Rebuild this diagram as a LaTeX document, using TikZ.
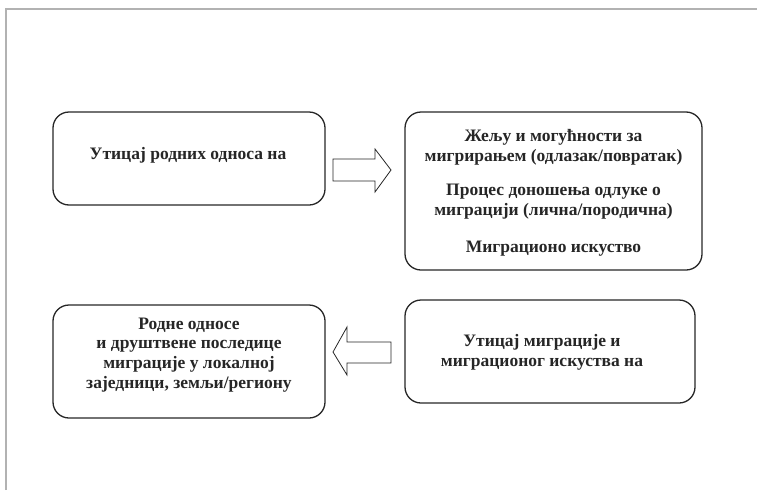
\documentclass[tikz,border=0pt]{standalone}
\usepackage{fontspec}
\setmainfont{Liberation Serif}
\begin{document}
\begin{tikzpicture}[x=1pt,y=-1pt,
  box/.style={draw=black!85,line width=1.3pt,rounded corners=16pt,inner sep=0pt},
  txt/.style={align=center,font=\bfseries\fontsize{17.5}{19.8}\selectfont,inner sep=0pt,text=black!85},
  blockarrow/.style={draw=black!85,line width=0.8pt,fill=white},
  frame/.style={draw=black!30,line width=1.2pt}]
\useasboundingbox (0,0) rectangle (757,490);
\coordinate (fa) at (6,490);
\coordinate (fb) at (6,9);
\coordinate (fc) at (757,9);
\draw[frame] (fa) -- (fb) -- (fc);

\node[box,minimum width=272pt,minimum height=93pt] (b1) at (189,158.5) {};
\node[box,minimum width=297pt,minimum height=158pt] (b2) at (553.5,191) {};
\node[box,minimum width=272pt,minimum height=113pt] (b3) at (189,361.5) {};
\node[box,minimum width=290pt,minimum height=103pt] (b4) at (550,351.5) {};

\node[txt] (t1) at (188,155) {Утицај родних односа на};
\node[txt] (t2) at (553.5,193) {Жељу и могућности за\\мигрирањем (одлазак/повратак)\\[14.5pt]Процес доношења одлуке о\\миграцији (лична/породична)\\[17pt]Миграционо искуство};
\node[txt] (t3) at (189,355) {Родне односе\\и друштвене последице\\миграције у локалној\\заједници, земљи/региону};
\node[txt] (t4) at (542,352.5) {Утицај миграције и\\миграционог искуства на};

\coordinate (ra) at (333,170);
\draw[blockarrow] (ra) ++(0,-11) -- ++(42,0) -- ++(0,-10) -- ++(16,21) -- ++(-16,22) -- ++(0,-11) -- ++(-42,0) -- cycle;
\coordinate (la) at (333,352);
\draw[blockarrow] (la) -- ++(14,-25) -- ++(0,15) -- ++(44,0) -- ++(0,21) -- ++(-44,0) -- ++(0,12) -- cycle;
\end{tikzpicture}
\end{document}
